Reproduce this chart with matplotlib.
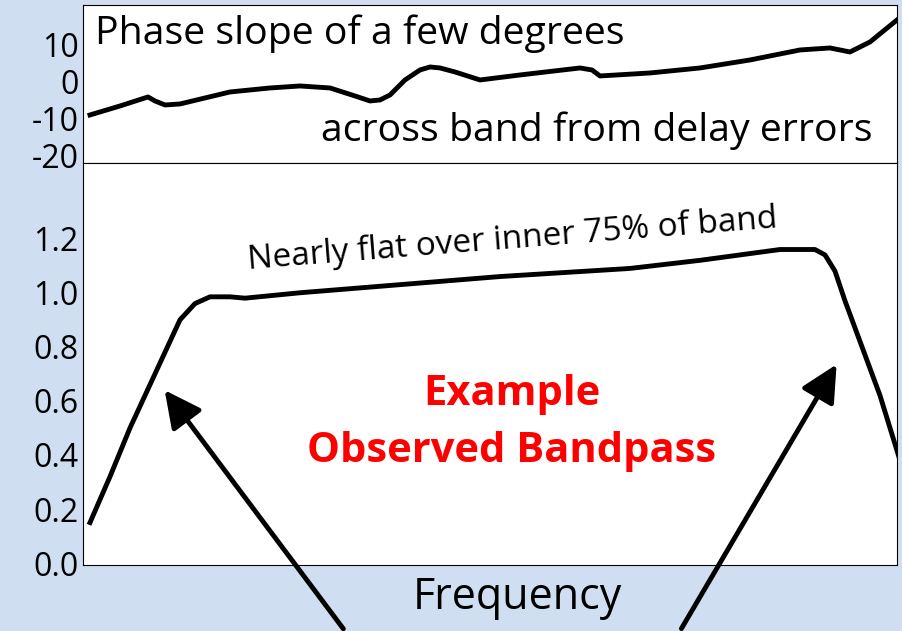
import matplotlib
matplotlib.use("Agg")
import matplotlib.pyplot as plt
import numpy as np

plt.rcParams['font.family'] = ['Open Sans', 'DejaVu Sans']
plt.rcParams['axes.unicode_minus'] = False

phase_x = [90,120,148,155,165,180,230,270,300,330,355,370,380,390,405,420,430,440,455,480,520,580,592,600,650,700,750,800,830,850,870,897]
phase_py = [115,106,97,101,105,104,92,88,86,88,96,101,100,95,80,70,67,68,72,80,75,68,70,76,73,68,60,50,48,52,42,20]
phase_f = [(p-83)/814 for p in phase_x]
phase_v = [(82-p)/3.7 for p in phase_py]

band_px = [90,110,130,150,165,180,195,210,230,245,300,400,500,630,700,780,815,825,835,845,860,880,900]
band_v = [0.15,0.32,0.5,0.66,0.78,0.9,0.96,0.985,0.985,0.98,1.0,1.03,1.06,1.09,1.12,1.16,1.16,1.14,1.08,0.97,0.82,0.62,0.38]
band_f = [(p-83)/814 for p in band_px]

W, H = 903, 631
fig = plt.figure(figsize=(9.03, 6.31), dpi=100, facecolor='#cfdff1')
ax1 = fig.add_axes([83/W, 1-163/H, 814/W, 158/H])
ax2 = fig.add_axes([83/W, 1-565/H, 814/W, 402/H])

ax1.plot(phase_f, phase_v, color='black', lw=3.5, solid_joinstyle='round')
ax1.set_xlim(0, 1); ax1.set_ylim(-21.9, 20.8)
ax1.set_yticks([10, 0, -10, -20]); ax1.set_xticks([])
ax1.tick_params(axis='y', length=0, labelsize=23, pad=3)
ax1.text(0.015, 0.94, 'Phase slope of a few degrees', transform=ax1.transAxes, fontsize=28.3, va='top')
ax1.text(0.97, 0.08, 'across band from delay errors', transform=ax1.transAxes, fontsize=28.3, va='bottom', ha='right')

ax2.plot(band_f, band_v, color='black', lw=3.5, solid_joinstyle='round')
ax2.set_xlim(0, 1); ax2.set_ylim(-0.007, 1.48)
ax2.set_yticks([0.0,0.2,0.4,0.6,0.8,1.0,1.2]); ax2.set_xticks([])
ax2.set_yticklabels(['0.0','0.2','0.4','0.6','0.8','1.0','1.2'])
ax2.tick_params(axis='y', length=0, labelsize=23, pad=3)
ax2.text(513/W, 1-240/H, 'Nearly flat over inner 75% of band', transform=fig.transFigure,
         fontsize=24, rotation=4.5, ha='center', va='center')
ax2.text(512/W, 1-423/H, 'Example\nObserved Bandpass', transform=fig.transFigure,
         fontsize=30, color='#ff0000', fontweight='bold', ha='center', va='center', linespacing=1.5)
fig.text(517/W, 1-598/H, 'Frequency', fontsize=31, ha='center', va='center')

for (x0, y0, x1, y1) in [(345, 631, 163, 388), (680, 631, 838, 362)]:
    fig.add_artist(matplotlib.patches.FancyArrowPatch(
        (x0/W, 1-y0/H), (x1/W, 1-y1/H), transform=fig.transFigure,
        arrowstyle='-|>,head_length=14,head_width=7', lw=3.5, color='black', mutation_scale=1.6))

fig.savefig('out.png', dpi=100, facecolor=fig.get_facecolor())
